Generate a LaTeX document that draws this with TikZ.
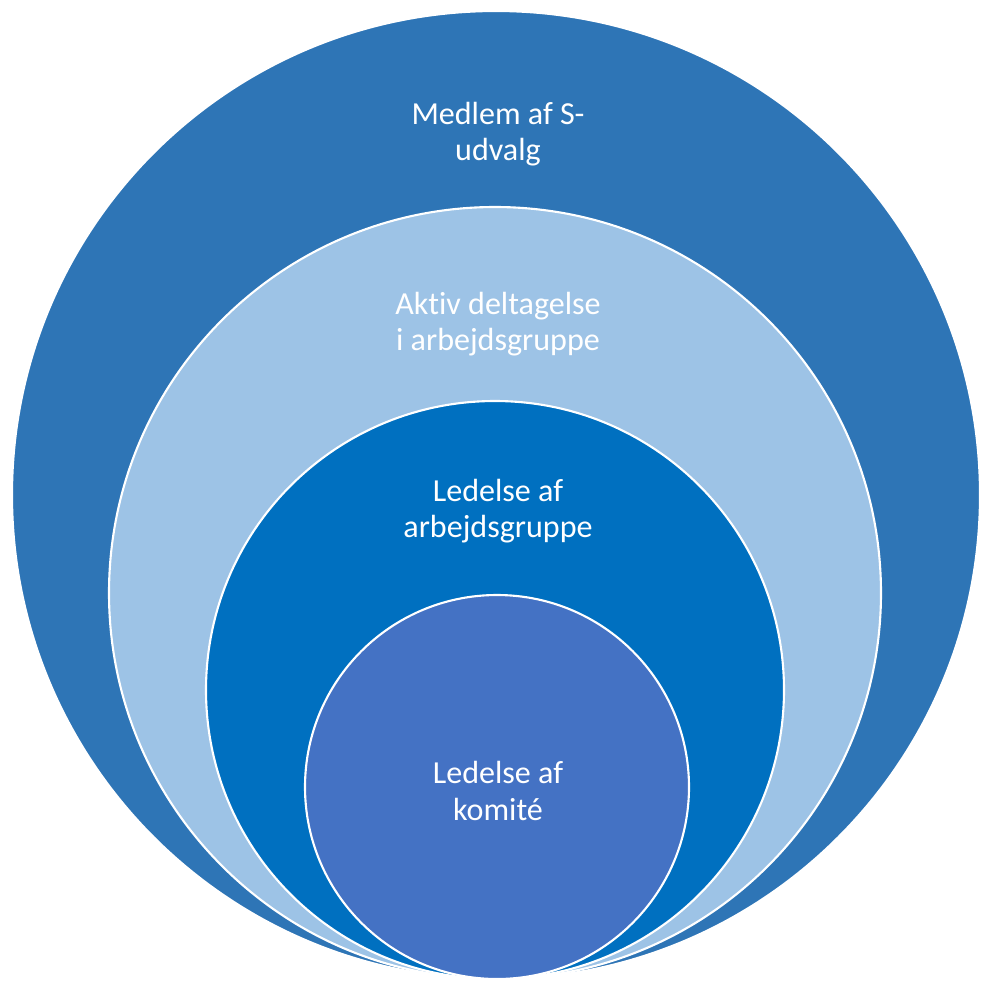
\documentclass[tikz,border=0pt]{standalone}
\usepackage{fontspec}
\setmainfont{Carlito}[RawFeature=-liga]
\definecolor{ringone}{HTML}{2E75B6}
\definecolor{ringtwo}{HTML}{9DC3E6}
\definecolor{ringthree}{HTML}{0070C0}
\definecolor{ringfour}{HTML}{4472C4}
\begin{document}
\begin{tikzpicture}[x=0.025cm,y=-0.025cm,font=\fontsize{22.8}{26}\selectfont,
  ring/.style={fill=#1,draw=white,line width=1.5pt},
  ringtext/.style={text=white,align=center,inner sep=0pt}]

\useasboundingbox[fill=white] (0,0) rectangle (982,982);

% centres of the nested circles, all touching at the bottom
\coordinate (c1) at (496,495);
\coordinate (c2) at (495,593);
\coordinate (c3) at (495,690);
\coordinate (c4) at (497,787);

\draw[ring=ringone] (c1) circle (484);
\draw[ring=ringtwo] (c2) circle (386);
\draw[ring=ringthree] (c3) circle (289);
\draw[ring=ringfour] (c4) circle (192);

\node[ringtext] (medlem) at (498,134) {Medlem af S-\\udvalg};
\node[ringtext] (aktiv) at (498,324) {Aktiv deltagelse\\i arbejdsgruppe};
\node[ringtext] (ledgruppe) at (498,511) {Ledelse af\\arbejdsgruppe};
\node[ringtext] (ledkomite) at (498,791) {Ledelse af\\komité};

\end{tikzpicture}
\end{document}
